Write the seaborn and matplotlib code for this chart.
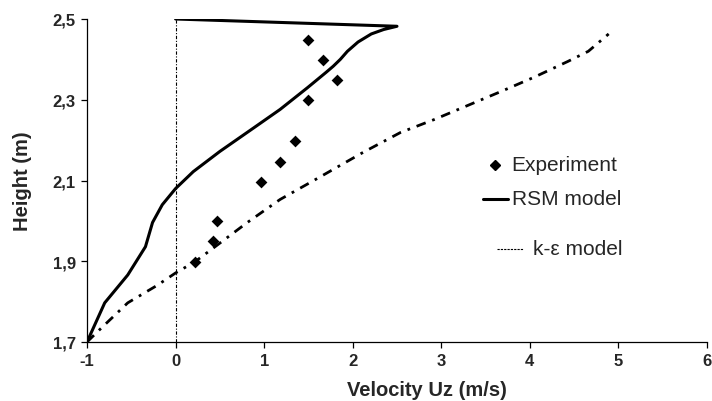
import matplotlib
matplotlib.use("Agg")
import matplotlib.pyplot as plt
import seaborn as sns
import numpy as np
import pandas as pd
from matplotlib.ticker import FuncFormatter

# ---- data ----
exp_u = [1.49, 1.66, 1.82, 1.50, 1.35, 1.18, 0.97, 0.47, 0.42, 0.22]
exp_h = [2.448, 2.398, 2.348, 2.299, 2.197, 2.147, 2.097, 2.000, 1.951, 1.899]

rsm_u = [-1.00, -0.80, -0.54, -0.34, -0.26, -0.15, 0.00, 0.20, 0.50, 0.88,
         1.18, 1.49, 1.70, 1.78, 1.86, 1.94, 2.06, 2.21, 2.35, 2.50, 0.00]
rsm_h = [1.700, 1.797, 1.866, 1.936, 1.996, 2.040, 2.080, 2.122, 2.172, 2.230,
         2.276, 2.330, 2.368, 2.383, 2.400, 2.420, 2.443, 2.463, 2.474, 2.482, 2.500]

ke_u = [-1.00, -0.86, -0.54, -0.21, 0.00, 0.22, 0.47, 0.81, 1.18, 1.56,
        2.12, 2.54, 2.92, 3.30, 3.68, 4.05, 4.43, 4.66, 4.89]
ke_h = [1.700, 1.730, 1.797, 1.840, 1.871, 1.899, 1.940, 1.996, 2.053, 2.100,
        2.170, 2.219, 2.251, 2.286, 2.321, 2.356, 2.395, 2.420, 2.463]

zero_u = [0, 0]
zero_h = [1.7, 2.5]

x_ticks = [-1, 0, 1, 2, 3, 4, 5, 6]
y_ticks = [1.7, 1.9, 2.1, 2.3, 2.5]

legend_labels = ["Experiment", "RSM model", "k-\u03b5 model"]

# ---- plot ----
sns.set_style("white")
plt.rcParams['font.family'] = ['Liberation Sans', 'DejaVu Sans']

fig = plt.figure(figsize=(7.12, 4.02), dpi=100)
ax = fig.add_axes([87/712, 1-343/402, 620/712, 323/402])

sns.lineplot(x=zero_u, y=zero_h, ax=ax, color="black", lw=0.8,
             linestyle=(0, (3, 1.5, 1, 1.5)), sort=False, estimator=None)
sns.lineplot(x=ke_u, y=ke_h, ax=ax, color="black", lw=2.0,
             linestyle=(0, (3.5, 2.5, 1, 2.5)), sort=False, estimator=None)
sns.lineplot(x=rsm_u, y=rsm_h, ax=ax, color="black", lw=2.2,
             sort=False, estimator=None)
sns.scatterplot(x=exp_u, y=exp_h, ax=ax, marker="D", color="black",
                s=36, edgecolor="black", linewidth=0, zorder=5)

ax.set_xlim(-1, 6)
ax.set_ylim(1.7, 2.5)
ax.set_xticks(x_ticks)
ax.set_yticks(y_ticks)
ax.yaxis.set_major_formatter(FuncFormatter(lambda v, p: f"{v:.1f}".replace(".", ",")))
ax.xaxis.set_major_formatter(FuncFormatter(lambda v, p: f"{int(round(v))}"))

for s in ["top", "right"]:
    ax.spines[s].set_visible(False)
for s in ["left", "bottom"]:
    ax.spines[s].set_color("black")
    ax.spines[s].set_linewidth(0.9)

ax.tick_params(axis="both", which="major", direction="out", length=4,
               width=0.9, color="black", labelsize=12, pad=4,
               bottom=True, left=True)
for lab in ax.get_xticklabels() + ax.get_yticklabels():
    lab.set_fontweight("bold")

ax.set_xlabel("Velocity Uz (m/s)", fontsize=14.5, fontweight="bold")
ax.set_ylabel("Height (m)", fontsize=14.5, fontweight="bold")
ax.xaxis.set_label_coords(0.548, -0.118)
ax.yaxis.set_label_coords(-0.089, 0.5)

# ---- manual legend (Excel style) ----
ax.plot([0.658], [0.548], marker="D", color="black", markersize=5,
        transform=ax.transAxes, clip_on=False)
ax.text(0.685, 0.548, legend_labels[0], transform=ax.transAxes,
        fontsize=15, va="center", ha="left")
ax.plot([0.639, 0.679], [0.443, 0.443], color="black", lw=2.2,
        transform=ax.transAxes, clip_on=False)
ax.text(0.685, 0.443, legend_labels[1], transform=ax.transAxes,
        fontsize=15, va="center", ha="left")
ax.plot([0.661, 0.703], [0.288, 0.288], color="black", lw=0.8,
        linestyle=(0, (2, 1)), transform=ax.transAxes, clip_on=False)
ax.text(0.719, 0.288, legend_labels[2], transform=ax.transAxes,
        fontsize=15, va="center", ha="left")

fig.savefig("out.png", dpi=100)
